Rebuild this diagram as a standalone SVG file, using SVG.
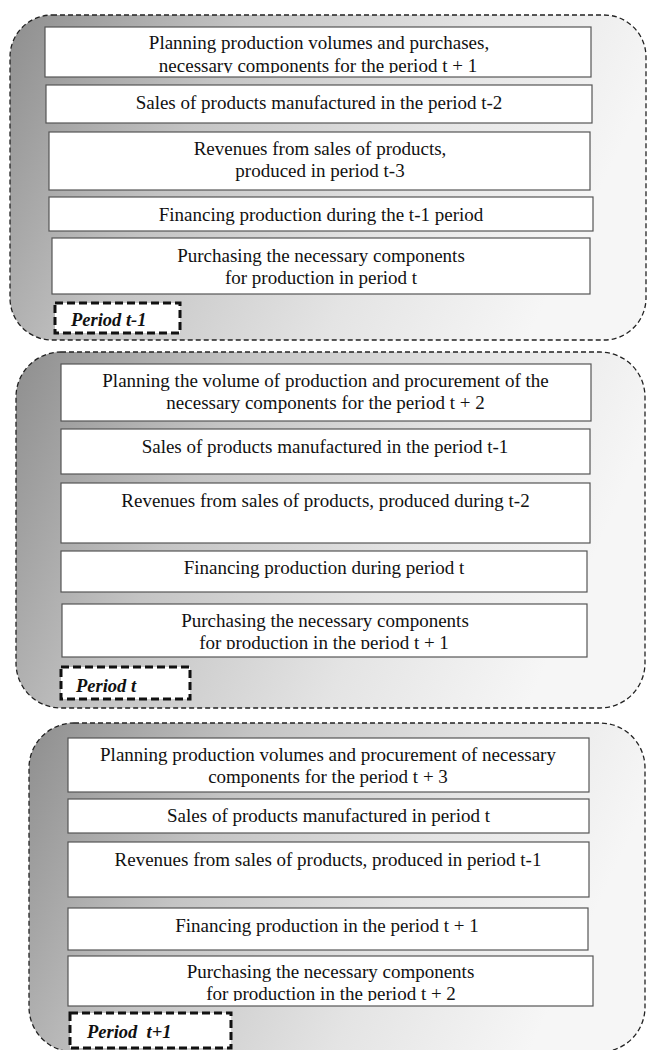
<svg xmlns="http://www.w3.org/2000/svg" width="648" height="1050" viewBox="0 0 648 1050">
<defs>
<linearGradient id="bg" x1="0" y1="0" x2="1" y2="0.25">
<stop offset="0" stop-color="#8e8e8e"/>
<stop offset="0.35" stop-color="#c4c4c4"/>
<stop offset="0.7" stop-color="#e4e4e4"/>
<stop offset="1" stop-color="#f6f6f6"/>
</linearGradient>
<clipPath id="c1"><rect x="45" y="27" width="546" height="46"/></clipPath>
<clipPath id="c2"><rect x="62" y="604" width="525" height="45"/></clipPath>
<clipPath id="c3"><rect x="68" y="956" width="525" height="45"/></clipPath>
</defs>
<style>
.cont{fill:url(#bg);stroke:#222;stroke-width:1.3;stroke-dasharray:5 3}
.box{fill:#fff;stroke:#555;stroke-width:1.2}
.lbl{fill:#fff;stroke:#111;stroke-width:3;stroke-dasharray:8 4}
text{font-family:"Liberation Serif","Times New Roman",serif;font-size:19px;fill:#111;text-anchor:middle}
.lt{font-weight:bold;font-style:italic;font-size:18.5px;text-anchor:start}
</style>
<g id="period-t-minus-1">
<rect class="cont" x="10" y="15" width="636" height="325" rx="42" ry="42"/>
<g id="p1-plan"><rect class="box" x="45" y="27" width="546" height="50"/>
<g clip-path="url(#c1)"><text x="319" y="49">Planning production volumes and purchases,</text><text x="318" y="72">necessary components for the period t + 1</text></g></g>
<g id="p1-sales"><rect class="box" x="46" y="85" width="546" height="38"/><text x="319" y="109">Sales of products manufactured in the period t-2</text></g>
<g id="p1-rev"><rect class="box" x="49" y="132" width="541" height="58"/><text x="320" y="155">Revenues from sales of products,</text><text x="320" y="177">produced in period t-3</text></g>
<g id="p1-fin"><rect class="box" x="49" y="197" width="544" height="34"/><text x="321" y="221">Financing production during the t-1 period</text></g>
<g id="p1-pur"><rect class="box" x="52" y="238" width="538" height="56"/><text x="321" y="262">Purchasing the necessary components</text><text x="321" y="284">for production in period t</text></g>
<g id="p1-label"><rect class="lbl" x="55" y="303" width="125" height="30"/><text class="lt" x="71" y="326">Period t-1</text></g>
</g>
<g id="period-t">
<rect class="cont" x="16" y="352" width="629" height="356" rx="45" ry="45"/>
<g id="p2-plan"><rect class="box" x="61" y="364" width="530" height="57"/><text x="325.5" y="387">Planning the volume of production and procurement of the</text><text x="325.5" y="409">necessary components for the period t + 2</text></g>
<g id="p2-sales"><rect class="box" x="61" y="429" width="529" height="45"/><text x="325" y="453">Sales of products manufactured in the period t-1</text></g>
<g id="p2-rev"><rect class="box" x="61" y="483" width="529" height="60"/><text x="325.5" y="507">Revenues from sales of products, produced during t-2</text></g>
<g id="p2-fin"><rect class="box" x="61" y="551" width="526" height="41"/><text x="324" y="574">Financing production during period t</text></g>
<g id="p2-pur"><rect class="box" x="62" y="604" width="525" height="53"/>
<g clip-path="url(#c2)"><text x="325" y="627">Purchasing the necessary components</text><text x="324" y="649">for production in the period t + 1</text></g></g>
<g id="p2-label"><rect class="lbl" x="61" y="667" width="129" height="32"/><text class="lt" x="76" y="692">Period t</text></g>
</g>
<g id="period-t-plus-1">
<rect class="cont" x="29" y="723" width="616" height="329" rx="45" ry="45"/>
<g id="p3-plan"><rect class="box" x="68" y="738" width="521" height="54"/><text x="328" y="761">Planning production volumes and procurement of necessary</text><text x="328" y="783">components for the period t + 3</text></g>
<g id="p3-sales"><rect class="box" x="68" y="799" width="521" height="34"/><text x="328.5" y="822">Sales of products manufactured in period t</text></g>
<g id="p3-rev"><rect class="box" x="68" y="842" width="521" height="55"/><text x="328" y="866">Revenues from sales of products, produced in period t-1</text></g>
<g id="p3-fin"><rect class="box" x="68" y="908" width="520" height="42"/><text x="327" y="932">Financing production in the period t + 1</text></g>
<g id="p3-pur"><rect class="box" x="68" y="956" width="525" height="50"/>
<g clip-path="url(#c3)"><text x="330.5" y="978">Purchasing the necessary components</text><text x="331" y="1000">for production in the period t + 2</text></g></g>
<g id="p3-label"><rect class="lbl" x="70" y="1013" width="161" height="35"/><text class="lt" x="87" y="1038" xml:space="preserve">Period  t+1</text></g>
</g>
<g id="connectors"/>
</svg>
